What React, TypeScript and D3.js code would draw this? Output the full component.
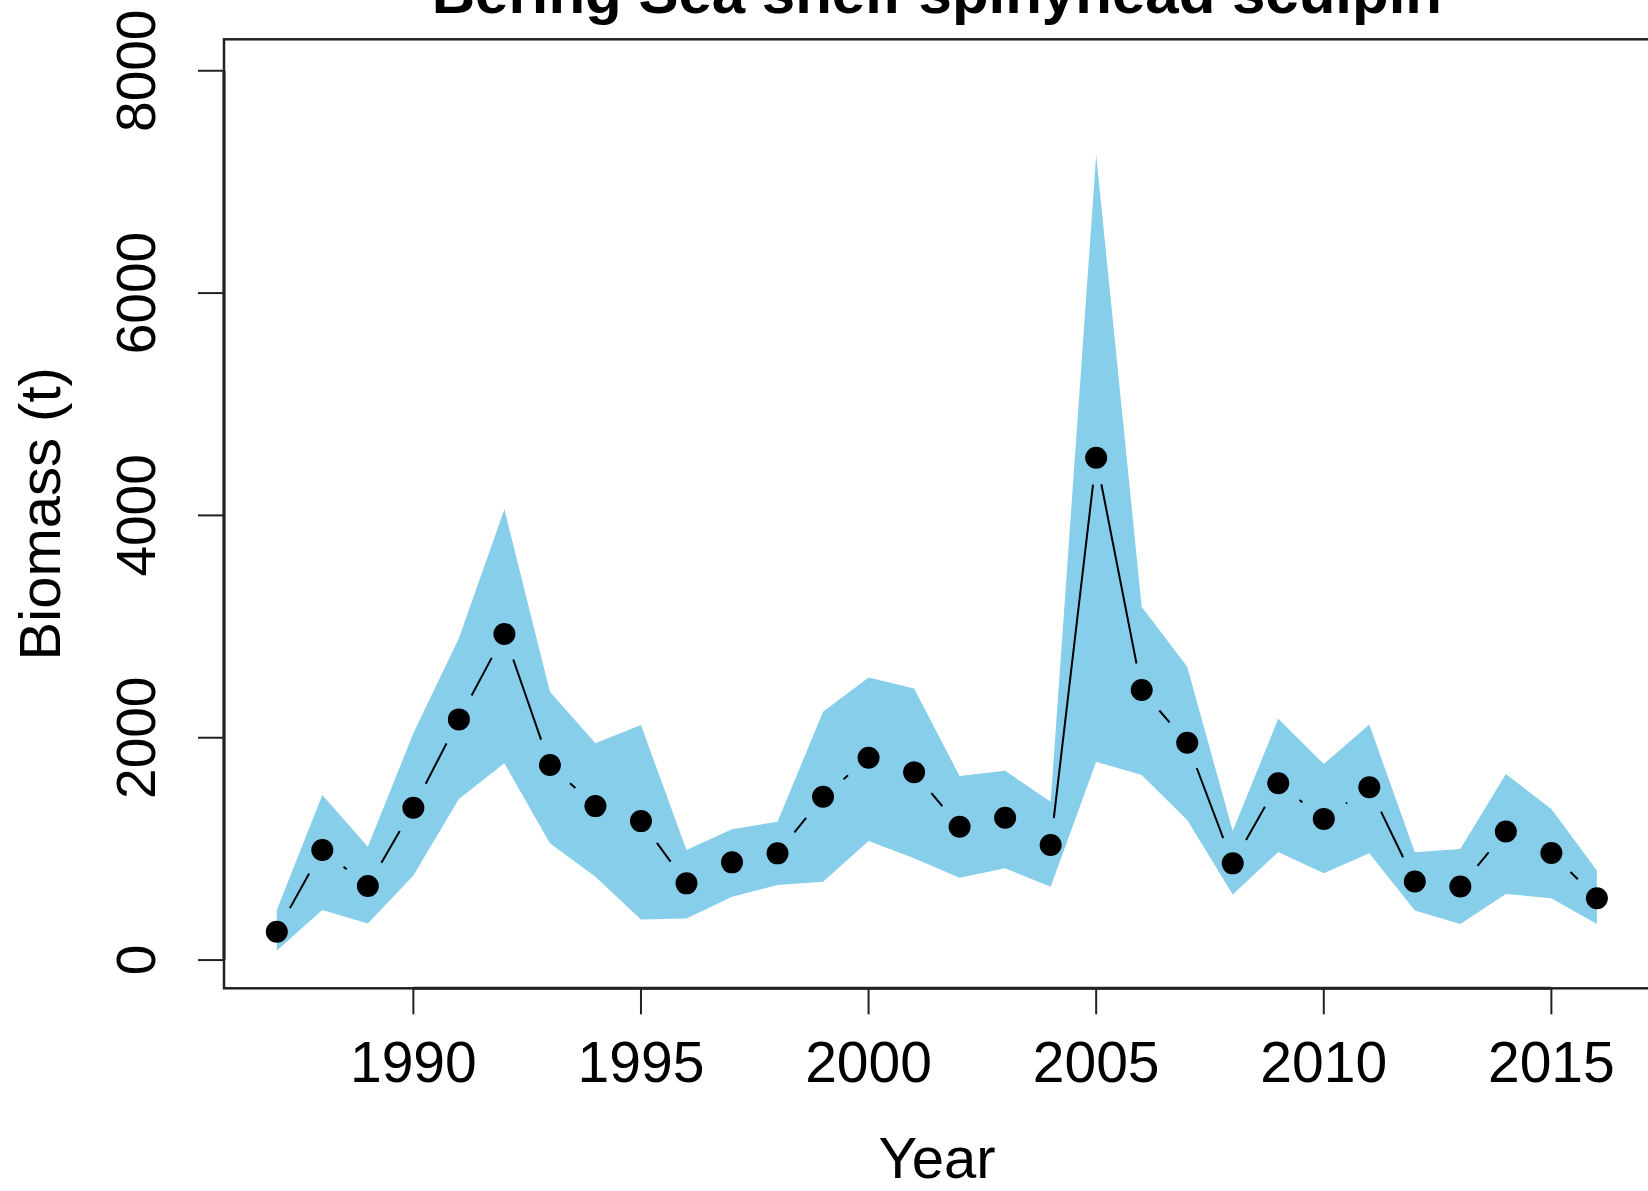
import * as d3 from "d3";

// survey years and biomass estimates (t)
const years = [
  1987, 1988, 1989, 1990, 1991, 1992, 1993, 1994, 1995, 1996,
  1997, 1998, 1999, 2000, 2001, 2002, 2003, 2004, 2005, 2006,
  2007, 2008, 2009, 2010, 2011, 2012, 2013, 2014, 2015, 2016,
];
const biomass = [
  255, 990, 666, 1370, 2165, 2933, 1754, 1385, 1250, 690,
  879, 960, 1469, 1820, 1689, 1199, 1280, 1035, 4519, 2429,
  1955, 870, 1590, 1270, 1554, 706, 661, 1156, 964, 556,
];
const upperCI = [
  450, 1484, 1020, 2040, 2895, 4055, 2414, 1950, 2114, 990,
  1176, 1244, 2234, 2543, 2444, 1655, 1703, 1424, 7242, 3179,
  2639, 1160, 2170, 1764, 2118, 970, 1000, 1674, 1360, 805,
];
const lowerCI = [
  85, 450, 330, 760, 1450, 1770, 1050, 750, 365, 375,
  570, 675, 705, 1071, 915, 741, 825, 660, 1784, 1664,
  1260, 590, 972, 781, 961, 445, 325, 595, 556, 325,
];
const xTicks = [1990, 1995, 2000, 2005, 2010, 2015];
const yTicks = [0, 2000, 4000, 6000, 8000];

const W = 1648;
const H = 1191;
const FONT = "'Liberation Sans', Arial, Helvetica, sans-serif";
const TICK = 26;
const GAP = 27; // R type="b" leaves a gap round each point
const POINT_R = 11;

export default function App() {
  const x = d3.scaleLinear().domain([1985.84, 2017.16]).range([224, 1649.7]);
  const y = d3.scaleLinear().domain([-254, 8283]).range([988.3, 39.3]);

  const rows = years.map((yr, i) => ({
    yr,
    v: biomass[i],
    lo: lowerCI[i],
    hi: upperCI[i],
  }));

  const band = d3
    .area<(typeof rows)[0]>()
    .x((d) => x(d.yr))
    .y0((d) => y(d.lo))
    .y1((d) => y(d.hi))(rows);

  const pts = rows.map((d) => [x(d.yr), y(d.v)] as [number, number]);

  // line segments shortened at both ends, dropped when too short
  const segs = pts.slice(1).flatMap((p, i) => {
    const a = pts[i];
    const dx = p[0] - a[0];
    const dy = p[1] - a[1];
    const len = Math.hypot(dx, dy);
    if (len <= 2 * GAP) return [];
    const ux = dx / len;
    const uy = dy / len;
    return [[a[0] + ux * GAP, a[1] + uy * GAP, p[0] - ux * GAP, p[1] - uy * GAP]];
  });

  const [left, right] = x.range();
  const [bottom, top] = y.range();

  return (
    <svg
      width={W}
      height={H}
      style={{ position: "absolute", left: 0, top: 0, background: "#fff" }}
      fontFamily={FONT}
    >
      <rect width={W} height={H} fill="#fff" />

      <path d={band ?? ""} fill="#87CEEB" />

      {segs.map((s, i) => (
        <line key={i} x1={s[0]} y1={s[1]} x2={s[2]} y2={s[3]} stroke="#000" strokeWidth={2} />
      ))}

      {pts.map((p, i) => (
        <circle key={i} cx={p[0]} cy={p[1]} r={POINT_R} fill="#000" />
      ))}

      {/* box */}
      <rect
        x={left}
        y={top}
        width={right - left}
        height={bottom - top}
        fill="none"
        stroke="#222"
        strokeWidth={2.5}
      />

      {/* x axis */}
      <line x1={x(xTicks[0])} x2={x(xTicks[xTicks.length - 1])} y1={bottom} y2={bottom} stroke="#222" strokeWidth={3} />
      {xTicks.map((t) => (
        <g key={t}>
          <line x1={x(t)} x2={x(t)} y1={bottom} y2={bottom + TICK} stroke="#222" strokeWidth={2} />
          <text x={x(t)} y={1082} fontSize={57} textAnchor="middle" fill="#000">
            {t}
          </text>
        </g>
      ))}

      {/* y axis */}
      <line x1={left} x2={left} y1={y(yTicks[0])} y2={y(yTicks[yTicks.length - 1])} stroke="#222" strokeWidth={3} />
      {yTicks.map((t) => (
        <g key={t}>
          <line x1={left - TICK} x2={left} y1={y(t)} y2={y(t)} stroke="#222" strokeWidth={2} />
          <text
            transform={`translate(155,${y(t)}) rotate(-90)`}
            fontSize={55}
            textAnchor="middle"
            fill="#000"
          >
            {t}
          </text>
        </g>
      ))}

      <text x={(left + right) / 2} y={13} fontSize={60} fontWeight="bold" textAnchor="middle" fill="#000">
        Bering Sea shelf spinyhead sculpin
      </text>
      <text x={937} y={1178} fontSize={58} textAnchor="middle" fill="#000">
        Year
      </text>
      <text
        transform={`translate(60,${(top + bottom) / 2}) rotate(-90)`}
        fontSize={58}
        textAnchor="middle"
        fill="#000"
      >
        Biomass (t)
      </text>
    </svg>
  );
}
